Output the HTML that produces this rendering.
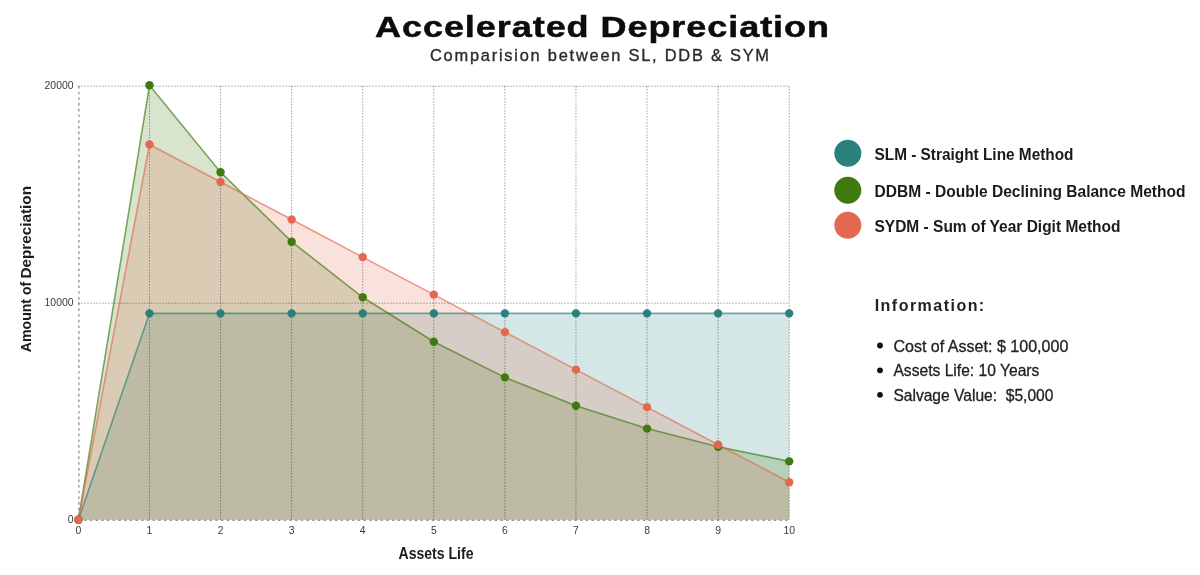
<!DOCTYPE html>
<html><head><meta charset="utf-8"><title>Accelerated Depreciation</title>
<style>
html,body{margin:0;padding:0;background:#fff;}
body{width:1200px;height:575px;overflow:hidden;font-family:"Liberation Sans",sans-serif;}
svg{display:block;filter:blur(0.4px);font-family:"Liberation Sans",sans-serif;}
.g{stroke:#000;stroke-opacity:0.42;stroke-width:1;stroke-dasharray:1.3 1.7;}
.ax{stroke:#000;stroke-opacity:0.52;stroke-width:1.1;stroke-dasharray:2.6 3.1;}
.tk{font-size:10.4px;fill:#3a3a3a;}
.b{font-weight:bold;}
</style></head><body>
<svg width="1200" height="575" viewBox="0 0 1200 575">
<rect width="1200" height="575" fill="#fff"/>
<text transform="translate(375 37) scale(1.19 1)" class="b" font-size="30.3" fill="#0c0c0c" stroke="#0c0c0c" stroke-width="0.5" textLength="381.5" lengthAdjust="spacing">Accelerated Depreciation</text>
<text x="430" y="61" font-size="16.4" fill="#2b2b2b" stroke="#2b2b2b" stroke-width="0.35" textLength="339" lengthAdjust="spacing">Comparision between SL, DDB &amp; SYM</text>
<polygon points="78.40,519.70 149.48,313.36 220.56,313.36 291.64,313.36 362.72,313.36 433.80,313.36 504.88,313.36 575.96,313.36 647.04,313.36 718.12,313.36 789.20,313.36 789.20,519.70 78.40,519.70" fill="#2a807c" fill-opacity="0.2"/>
<polygon points="78.40,519.70 149.48,85.30 220.56,172.18 291.64,241.68 362.72,297.29 433.80,341.77 504.88,377.36 575.96,405.82 647.04,428.60 718.12,446.82 789.20,461.40 789.20,519.70 78.40,519.70" fill="#3f7a0f" fill-opacity="0.2"/>
<polygon points="78.40,519.70 149.48,144.54 220.56,182.05 291.64,219.57 362.72,257.09 433.80,294.60 504.88,332.12 575.96,369.63 647.04,407.15 718.12,444.67 789.20,482.18 789.20,519.70 78.40,519.70" fill="#e2694f" fill-opacity="0.2"/>
<line x1="149.48" y1="86.2" x2="149.48" y2="520" class="g"/>
<line x1="220.56" y1="86.2" x2="220.56" y2="520" class="g"/>
<line x1="291.64" y1="86.2" x2="291.64" y2="520" class="g"/>
<line x1="362.72" y1="86.2" x2="362.72" y2="520" class="g"/>
<line x1="433.80" y1="86.2" x2="433.80" y2="520" class="g"/>
<line x1="504.88" y1="86.2" x2="504.88" y2="520" class="g"/>
<line x1="575.96" y1="86.2" x2="575.96" y2="520" class="g"/>
<line x1="647.04" y1="86.2" x2="647.04" y2="520" class="g"/>
<line x1="718.12" y1="86.2" x2="718.12" y2="520" class="g"/>
<line x1="789.20" y1="86.2" x2="789.20" y2="520" class="g"/>
<line x1="78.40" y1="303.2" x2="789.20" y2="303.2" class="g"/>
<line x1="78.40" y1="86.2" x2="789.20" y2="86.2" class="g"/>
<line x1="78.90" y1="86" x2="78.90" y2="520" class="ax"/>
<line x1="78.40" y1="520.3" x2="789.20" y2="520.3" class="ax"/>

<polyline points="78.40,519.70 149.48,313.36 220.56,313.36 291.64,313.36 362.72,313.36 433.80,313.36 504.88,313.36 575.96,313.36 647.04,313.36 718.12,313.36 789.20,313.36" fill="none" stroke="#2a807c" stroke-opacity="0.65" stroke-width="1.6"/>
<polyline points="78.40,519.70 149.48,85.30 220.56,172.18 291.64,241.68 362.72,297.29 433.80,341.77 504.88,377.36 575.96,405.82 647.04,428.60 718.12,446.82 789.20,461.40" fill="none" stroke="#3f7a0f" stroke-opacity="0.65" stroke-width="1.6"/>
<polyline points="78.40,519.70 149.48,144.54 220.56,182.05 291.64,219.57 362.72,257.09 433.80,294.60 504.88,332.12 575.96,369.63 647.04,407.15 718.12,444.67 789.20,482.18" fill="none" stroke="#e2694f" stroke-opacity="0.65" stroke-width="1.6"/>
<circle cx="78.40" cy="519.70" r="4.2" fill="#2a807c"/>
<circle cx="149.48" cy="313.36" r="4.2" fill="#2a807c"/>
<circle cx="220.56" cy="313.36" r="4.2" fill="#2a807c"/>
<circle cx="291.64" cy="313.36" r="4.2" fill="#2a807c"/>
<circle cx="362.72" cy="313.36" r="4.2" fill="#2a807c"/>
<circle cx="433.80" cy="313.36" r="4.2" fill="#2a807c"/>
<circle cx="504.88" cy="313.36" r="4.2" fill="#2a807c"/>
<circle cx="575.96" cy="313.36" r="4.2" fill="#2a807c"/>
<circle cx="647.04" cy="313.36" r="4.2" fill="#2a807c"/>
<circle cx="718.12" cy="313.36" r="4.2" fill="#2a807c"/>
<circle cx="789.20" cy="313.36" r="4.2" fill="#2a807c"/>
<circle cx="78.40" cy="519.70" r="4.2" fill="#3f7a0f"/>
<circle cx="149.48" cy="85.30" r="4.2" fill="#3f7a0f"/>
<circle cx="220.56" cy="172.18" r="4.2" fill="#3f7a0f"/>
<circle cx="291.64" cy="241.68" r="4.2" fill="#3f7a0f"/>
<circle cx="362.72" cy="297.29" r="4.2" fill="#3f7a0f"/>
<circle cx="433.80" cy="341.77" r="4.2" fill="#3f7a0f"/>
<circle cx="504.88" cy="377.36" r="4.2" fill="#3f7a0f"/>
<circle cx="575.96" cy="405.82" r="4.2" fill="#3f7a0f"/>
<circle cx="647.04" cy="428.60" r="4.2" fill="#3f7a0f"/>
<circle cx="718.12" cy="446.82" r="4.2" fill="#3f7a0f"/>
<circle cx="789.20" cy="461.40" r="4.2" fill="#3f7a0f"/>
<circle cx="78.40" cy="519.70" r="4.2" fill="#e2694f"/>
<circle cx="149.48" cy="144.54" r="4.2" fill="#e2694f"/>
<circle cx="220.56" cy="182.05" r="4.2" fill="#e2694f"/>
<circle cx="291.64" cy="219.57" r="4.2" fill="#e2694f"/>
<circle cx="362.72" cy="257.09" r="4.2" fill="#e2694f"/>
<circle cx="433.80" cy="294.60" r="4.2" fill="#e2694f"/>
<circle cx="504.88" cy="332.12" r="4.2" fill="#e2694f"/>
<circle cx="575.96" cy="369.63" r="4.2" fill="#e2694f"/>
<circle cx="647.04" cy="407.15" r="4.2" fill="#e2694f"/>
<circle cx="718.12" cy="444.67" r="4.2" fill="#e2694f"/>
<circle cx="789.20" cy="482.18" r="4.2" fill="#e2694f"/>

<text x="78.40" y="534.0" class="tk" text-anchor="middle">0</text>
<text x="149.48" y="534.0" class="tk" text-anchor="middle">1</text>
<text x="220.56" y="534.0" class="tk" text-anchor="middle">2</text>
<text x="291.64" y="534.0" class="tk" text-anchor="middle">3</text>
<text x="362.72" y="534.0" class="tk" text-anchor="middle">4</text>
<text x="433.80" y="534.0" class="tk" text-anchor="middle">5</text>
<text x="504.88" y="534.0" class="tk" text-anchor="middle">6</text>
<text x="575.96" y="534.0" class="tk" text-anchor="middle">7</text>
<text x="647.04" y="534.0" class="tk" text-anchor="middle">8</text>
<text x="718.12" y="534.0" class="tk" text-anchor="middle">9</text>
<text x="789.20" y="534.0" class="tk" text-anchor="middle">10</text>
<text x="73.5" y="523.00" class="tk" text-anchor="end">0</text>
<text x="73.5" y="306.20" class="tk" text-anchor="end">10000</text>
<text x="73.5" y="89.20" class="tk" text-anchor="end">20000</text>

<text x="436" y="558.7" class="b" font-size="15.8" fill="#1c1c1c" text-anchor="middle" textLength="75" lengthAdjust="spacingAndGlyphs">Assets Life</text>
<text transform="translate(31.3 352.2) rotate(-90)" class="b" font-size="15.2" fill="#1c1c1c" textLength="70.5" lengthAdjust="spacingAndGlyphs">Amount of</text>
<text transform="translate(31.3 278.6) rotate(-90)" class="b" font-size="15.2" fill="#1c1c1c" textLength="92.6" lengthAdjust="spacingAndGlyphs">Depreciation</text>

<circle cx="847.8" cy="153.3" r="13.5" fill="#2a807c"/>
<circle cx="847.8" cy="190.2" r="13.5" fill="#3f7a0f"/>
<circle cx="847.8" cy="225.2" r="13.5" fill="#e2694f"/>
<text x="874.5" y="159.6" class="b" font-size="15.8" fill="#1a1a1a" textLength="199" lengthAdjust="spacingAndGlyphs">SLM - Straight Line Method</text>
<text x="874.5" y="196.7" class="b" font-size="15.8" fill="#1a1a1a" textLength="311" lengthAdjust="spacingAndGlyphs">DDBM - Double Declining Balance Method</text>
<text x="874.5" y="231.6" class="b" font-size="15.8" fill="#1a1a1a" textLength="246" lengthAdjust="spacingAndGlyphs">SYDM - Sum of Year Digit Method</text>

<text x="874.7" y="311" class="b" font-size="16" fill="#222" textLength="109.5" lengthAdjust="spacing">Information:</text>
<circle cx="880" cy="345.5" r="2.9" fill="#111"/>
<circle cx="880" cy="370.3" r="2.9" fill="#111"/>
<circle cx="880" cy="394.8" r="2.9" fill="#111"/>
<text x="893.4" y="351.6" font-size="16.2" fill="#222" stroke="#222" stroke-width="0.3" textLength="175" lengthAdjust="spacingAndGlyphs">Cost of Asset: $ 100,000</text>
<text x="893.4" y="376.2" font-size="16.2" fill="#222" stroke="#222" stroke-width="0.3" textLength="146" lengthAdjust="spacingAndGlyphs">Assets Life: 10 Years</text>
<text x="893.4" y="400.7" font-size="16.2" fill="#222" stroke="#222" stroke-width="0.3" textLength="160" lengthAdjust="spacingAndGlyphs">Salvage Value:&#160; $5,000</text>
</svg>
</body></html>
